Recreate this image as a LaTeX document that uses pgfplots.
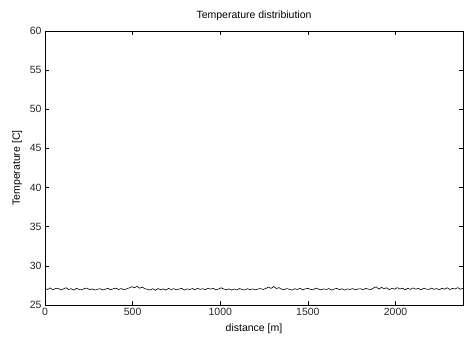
\documentclass[border=0pt]{standalone}
\usepackage{fontspec}
\setmainfont{Liberation Sans}
\usepackage{pgfplots}
\usepackage{pgfplotstable}
\pgfplotsset{compat=1.18}
\pgfplotstableread{
T
27.12 
26.98 
27.18 
26.95 
27.10 
27.14 
26.92 
27.06 
27.20 
26.98
27.08 
26.90 
27.12 
27.00 
26.93 
27.10 
27.16 
26.95 
27.06 
26.90
27.02 
27.08 
26.92 
27.04 
27.12 
26.96 
27.08 
27.15 
26.98 
27.10
26.94 
27.06 
27.18 
27.34 
27.20 
27.38 
27.15 
27.28 
27.08 
27.00
26.92 
27.08 
26.88 
27.10 
26.95 
27.06 
26.90 
27.12 
26.98 
27.08
26.94 
27.04 
27.12 
26.91 
27.06 
26.98 
27.10 
26.93 
27.14 
27.00
27.08 
26.95 
27.16 
27.02 
27.12 
26.94 
27.04 
27.20 
27.04 
26.95
27.06 
26.90 
27.04 
26.93 
27.10 
26.98 
26.92 
27.08 
26.95 
27.06
26.94 
27.04 
27.10 
26.98 
27.12 
27.28 
27.12 
27.36 
27.10 
27.22
27.02 
26.95 
27.10 
27.00 
26.91 
27.08 
26.98 
27.14 
26.93 
27.06
27.12 
27.00 
26.95 
27.16 
27.04 
26.93 
27.06 
26.98 
27.10 
26.91
27.04 
27.12 
26.95 
27.08 
26.90 
27.06 
26.98 
27.10 
26.93 
27.04
27.08 
26.95 
27.12 
27.02 
26.98 
27.18 
27.32 
27.02 
27.25 
27.08
27.20 
26.95 
27.14 
27.02 
27.22 
27.04 
27.16 
26.95 
27.12 
27.00
27.18 
27.02 
27.12 
26.93 
27.14 
27.04 
26.98 
27.16 
27.00 
27.10
26.95 
27.14 
27.02 
27.20 
26.98 
27.12 
27.04 
27.22 
27.00 
27.14
}\tempdata
\begin{document}
\begin{tikzpicture}
\useasboundingbox (-45bp,-35bp) rectangle (419bp,305bp);
\begin{axis}[
  at={(0,0)}, anchor=south west,
  scale only axis,
  width=418bp, height=274bp,
  xmin=0, xmax=2385,
  ymin=25, ymax=60,
  xtick={0,500,1000,1500,2000},
  ytick={25,30,...,60},
  tick align=inside,
  major tick length=4bp,
  axis line style={line width=0.6pt},
  tick style={line width=0.5pt, black},
  /pgf/number format/assume math mode=true,
  scaled x ticks=false,
  /pgf/number format/1000 sep={},
  tick label style={font=\fontsize{10.5bp}{12bp}\selectfont, text=black!85},
  label style={font=\fontsize{10.5bp}{12bp}\selectfont},
  title style={font=\fontsize{10.5bp}{12bp}\selectfont, yshift=1bp},
  title={Temperature distribiution},
  xlabel={distance [m]},
  ylabel={Temperature [C]},
  xlabel style={yshift=-1bp},
  ylabel style={yshift=1bp},
]
\addplot[black, line width=0.6pt, mark=none] table[x expr=\coordindex*15, y=T] {\tempdata};
\end{axis}
\end{tikzpicture}
\end{document}
